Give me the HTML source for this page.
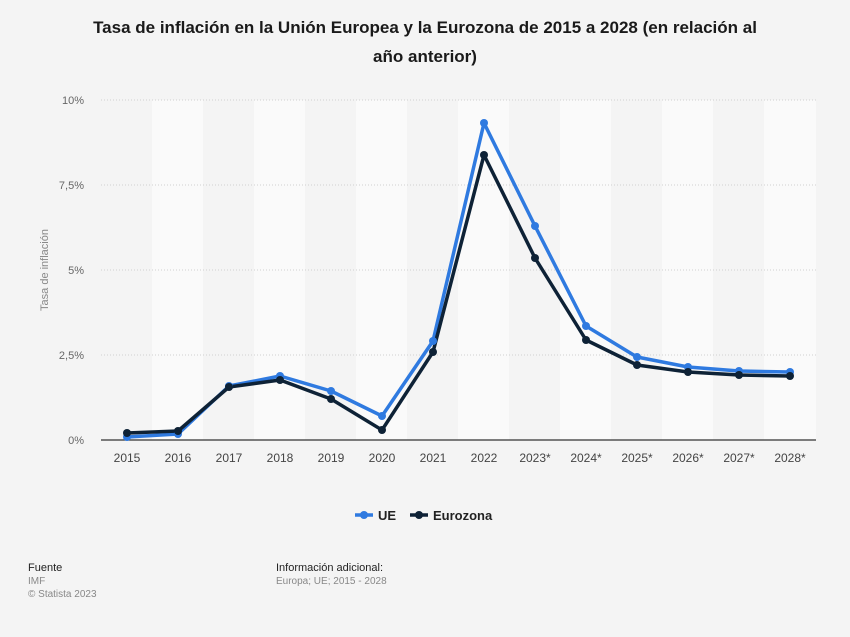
<!DOCTYPE html>
<html><head><meta charset="utf-8"><style>
body{margin:0;background:#f4f4f4;font-family:"Liberation Sans",sans-serif;}
</style></head><body>
<svg width="850" height="632" xmlns="http://www.w3.org/2000/svg" font-family="Liberation Sans, sans-serif">
<rect width="850" height="632" fill="#f4f4f4"/>
<text x="425" y="33" text-anchor="middle" font-size="17" font-weight="bold" fill="#1a1a1a">Tasa de inflación en la Unión Europea y la Eurozona de 2015 a 2028 (en relación al</text>
<text x="425" y="62" text-anchor="middle" font-size="17" font-weight="bold" fill="#1a1a1a">año anterior)</text>
<g fill="#fafafa">
<rect x="152" y="100" width="51" height="340"/>
<rect x="254" y="100" width="51" height="340"/>
<rect x="356" y="100" width="51" height="340"/>
<rect x="458" y="100" width="51" height="340"/>
<rect x="560" y="100" width="51" height="340"/>
<rect x="662" y="100" width="51" height="340"/>
<rect x="764" y="100" width="52" height="340"/>
</g>
<g stroke="#d0d0d0" stroke-dasharray="1,2">
<line x1="101" y1="100" x2="816" y2="100"/><line x1="101" y1="185" x2="816" y2="185"/>
<line x1="101" y1="270" x2="816" y2="270"/><line x1="101" y1="355" x2="816" y2="355"/>
</g>
<line x1="101" y1="440" x2="816" y2="440" stroke="#333" stroke-width="1.2"/>
<g font-size="11" fill="#666" text-anchor="end">
<text x="84" y="104">10%</text><text x="84" y="189">7,5%</text><text x="84" y="274">5%</text><text x="84" y="359">2,5%</text><text x="84" y="444">0%</text>
</g>
<text transform="translate(48,270) rotate(-90)" text-anchor="middle" font-size="11" fill="#888">Tasa de inflación</text>
<g font-size="12" fill="#444" text-anchor="middle">
<text x="127" y="462">2015</text><text x="178" y="462">2016</text><text x="229" y="462">2017</text><text x="280" y="462">2018</text><text x="331" y="462">2019</text><text x="382" y="462">2020</text><text x="433" y="462">2021</text><text x="484" y="462">2022</text><text x="535" y="462">2023*</text><text x="586" y="462">2024*</text><text x="637" y="462">2025*</text><text x="688" y="462">2026*</text><text x="739" y="462">2027*</text><text x="790" y="462">2028*</text>
</g>
<g fill="none" stroke-width="3.5" stroke-linejoin="round">
<polyline stroke="#2f7ae0" points="127,437 178,434 229,386 280,376 331,391 382,416 433,341 484,123 535,226 586,326 637,357 688,367 739,371 790,372"/>
<polyline stroke="#0e2236" points="127,433 178,431 229,387 280,380 331,399 382,430 433,352 484,155 535,258 586,340 637,365 688,372 739,375 790,376"/>
</g>
<g fill="#2f7ae0">
<circle cx="127" cy="437" r="4"/><circle cx="178" cy="434" r="4"/><circle cx="229" cy="386" r="4"/><circle cx="280" cy="376" r="4"/><circle cx="331" cy="391" r="4"/><circle cx="382" cy="416" r="4"/><circle cx="433" cy="341" r="4"/><circle cx="484" cy="123" r="4"/><circle cx="535" cy="226" r="4"/><circle cx="586" cy="326" r="4"/><circle cx="637" cy="357" r="4"/><circle cx="688" cy="367" r="4"/><circle cx="739" cy="371" r="4"/><circle cx="790" cy="372" r="4"/>
</g>
<g fill="#0e2236">
<circle cx="127" cy="433" r="4"/><circle cx="178" cy="431" r="4"/><circle cx="229" cy="387" r="4"/><circle cx="280" cy="380" r="4"/><circle cx="331" cy="399" r="4"/><circle cx="382" cy="430" r="4"/><circle cx="433" cy="352" r="4"/><circle cx="484" cy="155" r="4"/><circle cx="535" cy="258" r="4"/><circle cx="586" cy="340" r="4"/><circle cx="637" cy="365" r="4"/><circle cx="688" cy="372" r="4"/><circle cx="739" cy="375" r="4"/><circle cx="790" cy="376" r="4"/>
</g>
<line x1="355" y1="515" x2="373" y2="515" stroke="#2f7ae0" stroke-width="3.5"/><circle cx="364" cy="515" r="4" fill="#2f7ae0"/>
<text x="378" y="520" font-size="13" font-weight="bold" fill="#222">UE</text>
<line x1="410" y1="515" x2="428" y2="515" stroke="#0e2236" stroke-width="3.5"/><circle cx="419" cy="515" r="4" fill="#0e2236"/>
<text x="433" y="520" font-size="13" font-weight="bold" fill="#222">Eurozona</text>
<text x="28" y="571" font-size="11" fill="#222">Fuente</text>
<text x="28" y="584" font-size="10" fill="#888">IMF</text>
<text x="28" y="597" font-size="10" fill="#888">© Statista 2023</text>
<text x="276" y="571" font-size="11" fill="#222">Información adicional:</text>
<text x="276" y="584" font-size="10" fill="#888">Europa; UE; 2015 - 2028</text>
</svg>
</body></html>
